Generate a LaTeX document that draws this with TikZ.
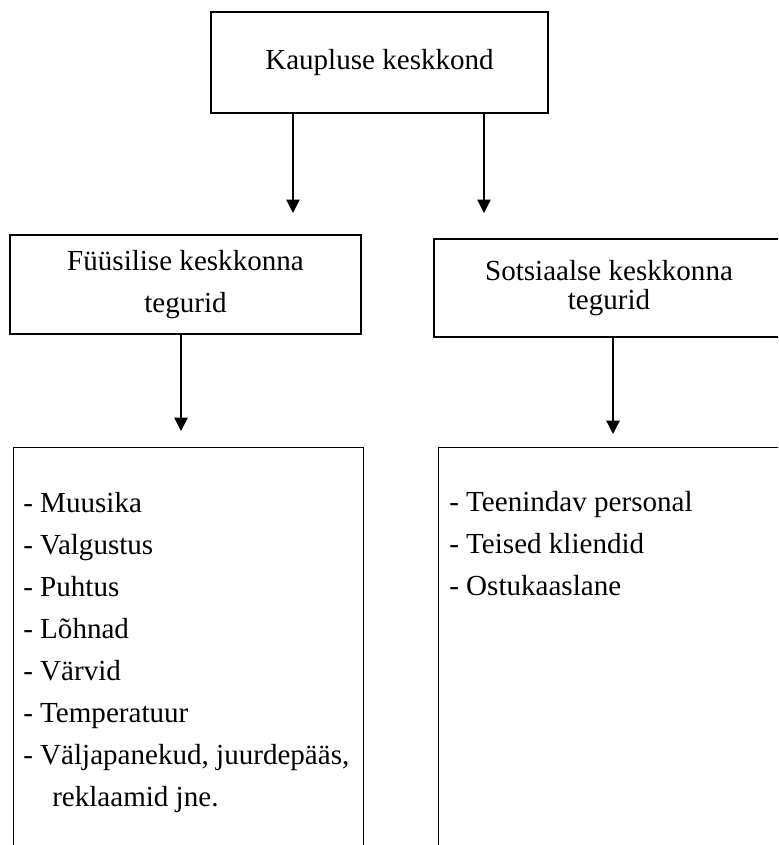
\documentclass[tikz,border=0pt]{standalone}
\usepackage{fontspec}
\setmainfont{Liberation Serif}
\usetikzlibrary{arrows.meta}

\begin{document}
\begin{tikzpicture}[x=.75pt,y=-.75pt,
box/.style={draw,line width=1.1pt,inner sep=0pt,align=center,font=\fontsize{21.8}{31.2}\selectfont},
txt/.style={anchor=base west,inner sep=0pt,font=\fontsize{21.8}{31.2}\selectfont},
arr/.style={line width=.9pt,-{Triangle[length=10pt,width=10pt]}}]
\useasboundingbox(0,0)rectangle(778,845);\clip(0,0)rectangle(778,845);
\node[box,minimum width=252.75pt,minimum height=75.75pt](k)at(379.5,62.5){Kaupluse keskkond};
\node[box,minimum width=263.25pt,minimum height=74.25pt](f)at(185.5,284.5){Füüsilise keskkonna\\tegurid};
\node[box,minimum width=262.5pt,minimum height=73.5pt](s)at(609,288){Sotsiaalse keskkonna\\[-10pt]tegurid};
\node[box,minimum width=262.5pt,minimum height=340pt,anchor=north west](fl)at(13,447){};
\node[box,minimum width=262.5pt,minimum height=340pt,anchor=north west](sl)at(438,447){};
\coordinate(a1)at(293,213);\coordinate(a2)at(484,213);\coordinate(a3)at(181,431);\coordinate(a4)at(613,434);
\draw[arr](k.south-|a1)--(a1);\draw[arr](k.south-|a2)--(a2);
\draw[arr](f.south-|a3)--(a3);\draw[arr](s.south-|a4)--(a4);
\foreach \t[count=\i from 0] in {- Muusika,- Valgustus,- Puhtus,- Lõhnad,- Värvid,- Temperatuur,{- Väljapanekud, juurdepääs,},\hspace*{21.75pt}reklaamid jne.}
  \node[txt](f\i)at(23,512+42*\i){\t};
\foreach \t[count=\i from 0] in {- Teenindav personal,- Teised kliendid,- Ostukaaslane}
  \node[txt](s\i)at(449,511+42*\i){\t};
\end{tikzpicture}
\end{document}
